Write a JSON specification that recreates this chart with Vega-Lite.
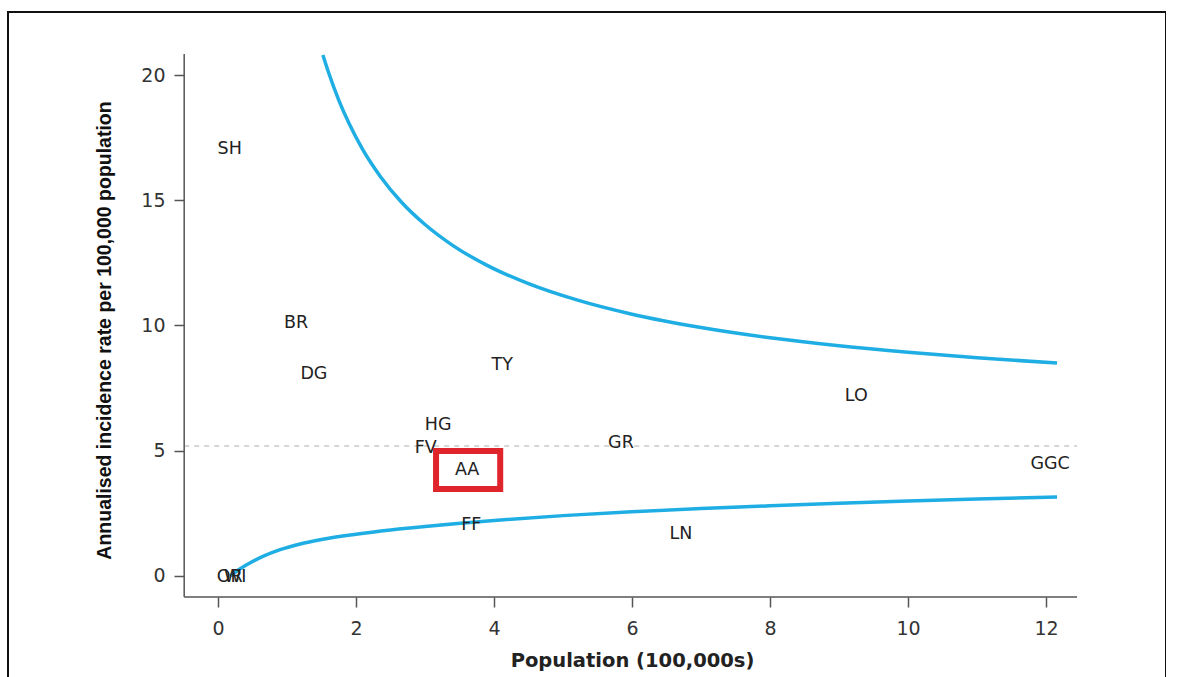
{
  "$schema": "https://vega.github.io/schema/vega-lite/v6.json",
  "autosize": "none",
  "padding": {"left": 8, "top": 12, "right": 0, "bottom": 0},
  "width": 1158,
  "height": 680,
  "background": "white",
  "config": {
    "view": {"stroke": "#111111", "strokeWidth": 2},
    "axis": {"grid": false, "domain": false}
  },
  "encoding": {
    "x": {
      "field": "population",
      "type": "quantitative",
      "scale": {"domain": [-3.0435, 13.739], "nice": false, "zero": false},
      "axis": {
        "values": [0, 2, 4, 6, 8, 10, 12],
        "offset": -95,
        "tickSize": 10,
        "tickWidth": 1.5,
        "tickColor": "#555555",
        "labelFont": "DejaVu Sans",
        "labelFontSize": 19,
        "labelColor": "#333333",
        "labelPadding": 12,
        "title": "Population (100,000s)",
        "titleFont": "DejaVu Sans",
        "titleFontWeight": "bold",
        "titleFontSize": 19.5,
        "titleColor": "#222222",
        "titlePadding": 13,
        "titleX": 624
      }
    },
    "y": {
      "field": "rate",
      "type": "quantitative",
      "scale": {"domain": [-4.631, 22.515], "nice": false, "zero": false},
      "axis": {
        "values": [0, 5, 10, 15, 20],
        "offset": -176,
        "tickSize": 10,
        "tickWidth": 1.5,
        "tickColor": "#555555",
        "labelFont": "DejaVu Sans",
        "labelFontSize": 19,
        "labelColor": "#333333",
        "labelPadding": 9,
        "title": "Annualised incidence rate per 100,000 population",
        "titleFont": "Liberation Sans",
        "titleFontWeight": "bold",
        "titleFontSize": 19.5,
        "titleColor": "#111111",
        "titlePadding": 26,
        "titleY": 318
      }
    }
  },
  "layer": [
    {
      "data": {"values": [{"population": -0.49, "population_end": 12.45, "rate": 5.19}]},
      "mark": {"type": "rule", "color": "#c8c8c8", "strokeWidth": 1.5, "strokeDash": [5, 5]},
      "encoding": {"x2": {"field": "population_end"}}
    },
    {
      "data": {"values": [{"population": -0.49, "population_end": 12.45, "rate": -0.84}]},
      "mark": {"type": "rule", "color": "#555555", "strokeWidth": 1.5},
      "encoding": {"x2": {"field": "population_end"}}
    },
    {
      "data": {"values": [{"population": -0.49, "rate": -0.84, "rate_end": 20.84}]},
      "mark": {"type": "rule", "color": "#555555", "strokeWidth": 1.5},
      "encoding": {"y2": {"field": "rate_end"}}
    },
    {
      "data": {"values": [
        {"limit": "upper", "population": 1.52, "rate": 20.8},
        {"limit": "upper", "population": 1.6, "rate": 20.12},
        {"limit": "upper", "population": 1.75, "rate": 19.0},
        {"limit": "upper", "population": 1.9, "rate": 18.06},
        {"limit": "upper", "population": 2.1, "rate": 17.01},
        {"limit": "upper", "population": 2.35, "rate": 15.96},
        {"limit": "upper", "population": 2.65, "rate": 14.95},
        {"limit": "upper", "population": 3.0, "rate": 14.03},
        {"limit": "upper", "population": 3.4, "rate": 13.2},
        {"limit": "upper", "population": 3.9, "rate": 12.4},
        {"limit": "upper", "population": 4.5, "rate": 11.67},
        {"limit": "upper", "population": 5.2, "rate": 11.02},
        {"limit": "upper", "population": 6.0, "rate": 10.45},
        {"limit": "upper", "population": 7.0, "rate": 9.92},
        {"limit": "upper", "population": 8.0, "rate": 9.51},
        {"limit": "upper", "population": 9.0, "rate": 9.19},
        {"limit": "upper", "population": 10.0, "rate": 8.93},
        {"limit": "upper", "population": 11.0, "rate": 8.71},
        {"limit": "upper", "population": 12.16, "rate": 8.5},
        {"limit": "lower", "population": 0.18, "rate": 0.0},
        {"limit": "lower", "population": 0.3, "rate": 0.25},
        {"limit": "lower", "population": 0.45, "rate": 0.5},
        {"limit": "lower", "population": 0.65, "rate": 0.78},
        {"limit": "lower", "population": 0.9, "rate": 1.05},
        {"limit": "lower", "population": 1.19, "rate": 1.28},
        {"limit": "lower", "population": 1.5, "rate": 1.46},
        {"limit": "lower", "population": 2.0, "rate": 1.67},
        {"limit": "lower", "population": 2.5, "rate": 1.84},
        {"limit": "lower", "population": 3.0, "rate": 1.98},
        {"limit": "lower", "population": 4.0, "rate": 2.22},
        {"limit": "lower", "population": 5.0, "rate": 2.41},
        {"limit": "lower", "population": 6.0, "rate": 2.56},
        {"limit": "lower", "population": 7.0, "rate": 2.69},
        {"limit": "lower", "population": 8.0, "rate": 2.8},
        {"limit": "lower", "population": 9.0, "rate": 2.9},
        {"limit": "lower", "population": 10.0, "rate": 2.99},
        {"limit": "lower", "population": 11.0, "rate": 3.07},
        {"limit": "lower", "population": 12.16, "rate": 3.15}
      ]},
      "mark": {"type": "line", "color": "#1faee3", "strokeWidth": 3.5, "interpolate": "monotone"},
      "encoding": {"detail": {"field": "limit"}}
    },
    {
      "data": {"values": [
        {"board": "SH", "population": 0.17, "rate": 17.05},
        {"board": "BR", "population": 1.13, "rate": 10.1},
        {"board": "DG", "population": 1.39, "rate": 8.06},
        {"board": "TY", "population": 4.12, "rate": 8.42},
        {"board": "LO", "population": 9.25, "rate": 7.19},
        {"board": "HG", "population": 3.19, "rate": 6.03},
        {"board": "FV", "population": 3.01, "rate": 5.11},
        {"board": "GR", "population": 5.84, "rate": 5.31},
        {"board": "AA", "population": 3.61, "rate": 4.23},
        {"board": "GGC", "population": 12.06, "rate": 4.47},
        {"board": "FF", "population": 3.67, "rate": 2.04},
        {"board": "LN", "population": 6.71, "rate": 1.68},
        {"board": "OR", "population": 0.17, "rate": -0.05},
        {"board": "WI", "population": 0.25, "rate": -0.05}
      ]},
      "mark": {"type": "text", "font": "DejaVu Sans", "fontSize": 17.5, "color": "#222222", "align": "center", "baseline": "middle"},
      "encoding": {"text": {"field": "board"}}
    },
    {
      "data": {"values": [{"population": 3.16, "population_end": 4.09, "rate": 4.99, "rate_end": 3.47}]},
      "mark": {"type": "rect", "filled": false, "stroke": "#e0242b", "strokeWidth": 6},
      "encoding": {"x2": {"field": "population_end"}, "y2": {"field": "rate_end"}}
    }
  ]
}
